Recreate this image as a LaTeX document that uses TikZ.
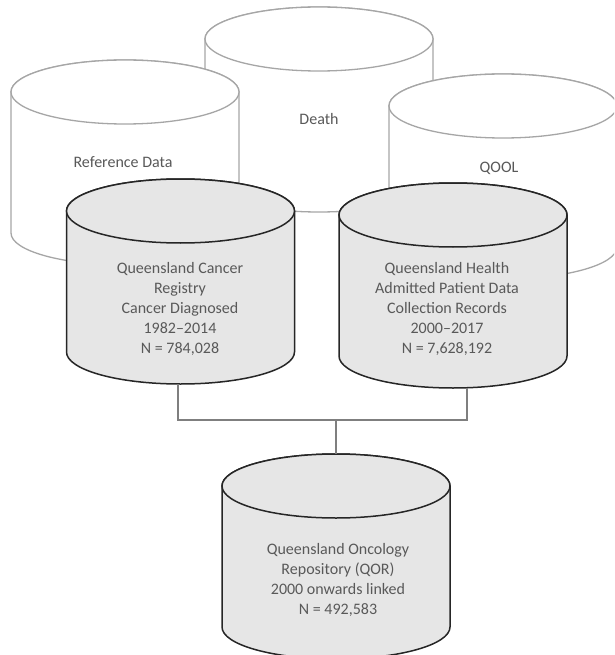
\documentclass[tikz,border=0pt]{standalone}
\usepackage{fontspec}
\setmainfont{Carlito}
\definecolor{txtgray}{HTML}{595959}
\definecolor{backline}{HTML}{A6A6A6}
\definecolor{frontfill}{HTML}{E6E6E6}
\definecolor{frontline}{HTML}{262626}
\definecolor{linkline}{HTML}{7F7F7F}
\newcommand\drawcyl[2]{%
  \path (#1.north west) ++(0pt,-32pt) coordinate (#1tl)
        (#1.north east) ++(0pt,-32pt) coordinate (#1tr)
        (#1.south west) ++(0pt,32pt) coordinate (#1bl)
        (#1.north) ++(0pt,-32pt) coordinate (#1tc);
  \path[#2] (#1tl) -- (#1bl) arc[start angle=180,end angle=360,x radius=114pt,y radius=32pt]
     -- (#1tr) arc[start angle=0,end angle=180,x radius=114pt,y radius=32pt] -- cycle;
  \path[#2] (#1tc) ellipse[x radius=114pt,y radius=32pt];
}
\begin{document}
\begin{tikzpicture}[x=1pt,y=-1pt,
  cylbox/.style={inner sep=0pt,outer sep=0pt,minimum width=228pt,minimum height=205pt},
  backcyl/.style={draw=backline,fill=white,line width=1.3pt},
  frontcyl/.style={draw=frontline,fill=frontfill,line width=1.5pt},
  lbl/.style={text=txtgray,font=\fontsize{16pt}{19.8pt}\selectfont,align=center,inner sep=0pt},
  link/.style={draw=linkline,line width=1.5pt}]
\useasboundingbox (0,0) rectangle (614,655);
\clip (0,0) rectangle (614,655);
% back cylinders
\node[cylbox] (death) at (319,109.5) {};
\drawcyl{death}{backcyl}
\node[cylbox] (ref) at (125,162.5) {};
\drawcyl{ref}{backcyl}
\node[cylbox] (qool) at (503,176.5) {};
\drawcyl{qool}{backcyl}
\node[lbl] (deathtxt) at (319,119) {Death};
\node[lbl] (reftxt) at (123,162) {Reference Data};
\node[lbl] (qooltxt) at (499,168) {QOOL};
% front cylinders
\node[cylbox] (qcr) at (180.5,281.5) {};
\drawcyl{qcr}{frontcyl}
\node[cylbox] (qhd) at (453,285.5) {};
\drawcyl{qhd}{frontcyl}
\node[cylbox] (qor) at (336,556.5) {};
\drawcyl{qor}{frontcyl}
\node[lbl] (qcrtxt) at (180,309) {Queensland Cancer\\Registry\\Cancer Diagnosed\\1982–2014\\N = 784,028};
\node[lbl] (qhdtxt) at (447,309) {Queensland Health\\Admitted Patient Data\\Collection Records\\2000–2017\\N = 7,628,192};
\node[lbl] (qortxt) at (338,580) {Queensland Oncology\\Repository (QOR)\\2000 onwards linked\\N = 492,583};
% connectors
\coordinate (junc) at (336,420);
\draw[link] ([xshift=-2.5pt]qcr.south) |- (junc) -| ([xshift=14pt]qhd.south);
\draw[link] (junc) -- (qor.north);
\end{tikzpicture}
\end{document}
